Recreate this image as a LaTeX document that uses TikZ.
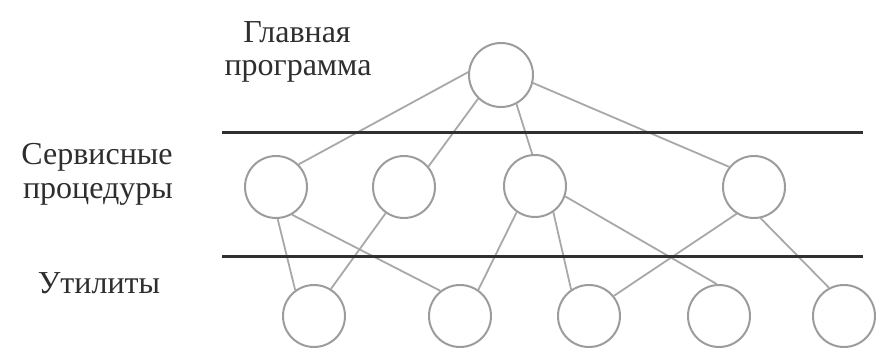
\documentclass[tikz,border=0pt]{standalone}
\usepackage{fontspec}
\setmainfont{Liberation Serif}
\definecolor{circcol}{HTML}{9C9C9C}
\definecolor{conncol}{HTML}{A8A8A8}
\definecolor{rulecol}{HTML}{303030}
\definecolor{txtcol}{HTML}{2E2E2E}
\begin{document}
\begin{tikzpicture}[x=1pt,y=-1pt,
  vert/.style={circle,draw=circcol,line width=2pt,minimum size=62pt,inner sep=0pt},
  vtop/.style={vert,minimum size=64pt},
  conn/.style={draw=conncol,line width=1.8pt},
  sepline/.style={draw=rulecol,line width=3pt},
  lbl/.style={font=\fontsize{32}{34}\selectfont,text=txtcol,anchor=base,inner sep=0pt}]
\useasboundingbox (0,0) rectangle (876,348);

% labels
\node[lbl] (l1a) at (297,42) {Главная};
\node[lbl] (l1b) at (298,75) {программа};
\node[lbl] (l2a) at (97,164) {Сервисные};
\node[lbl] (l2b) at (98,198) {процедуры};
\node[lbl] (l3) at (99,293) {Утилиты};

% separator lines
\coordinate (s1a) at (222,132);
\coordinate (s1b) at (863,132);
\coordinate (s2a) at (222,256);
\coordinate (s2b) at (863,256);

% nodes
\node[vtop] (main) at (501,75) {};
\node[vert] (m1) at (276,187) {};
\node[vert] (m2) at (404,187) {};
\node[vert] (m3) at (535,186) {};
\node[vert] (m4) at (754,187) {};
\node[vert] (b1) at (314,316) {};
\node[vert] (b2) at (460,316) {};
\node[vert] (b3) at (589,316) {};
\node[vert] (b4) at (719,316) {};
\node[vert] (b5) at (844,316) {};

% connectors
\draw[conn] (main.175) -- (m1.45);
\draw[conn] (main.226) -- (m2.40);
\draw[conn] (main.298) -- (m3.95);
\draw[conn] (main.346) -- (m4.141);

\draw[conn] (m1.273) -- (b1.126);
\draw[conn] (m1.300) -- (b2.128);
\draw[conn] (m2.235) -- (b1.58);
\draw[conn] (m3.235) -- (b2.55);
\draw[conn] (m3.305) -- (b3.124);
\draw[conn] (m3.341) -- (b4.94);
\draw[conn] (m4.237) -- (b3.39);
\draw[conn] (m4.282) -- (b5.118);

\draw[sepline] (s1a) -- (s1b);
\draw[sepline] (s2a) -- (s2b);
\end{tikzpicture}
\end{document}
